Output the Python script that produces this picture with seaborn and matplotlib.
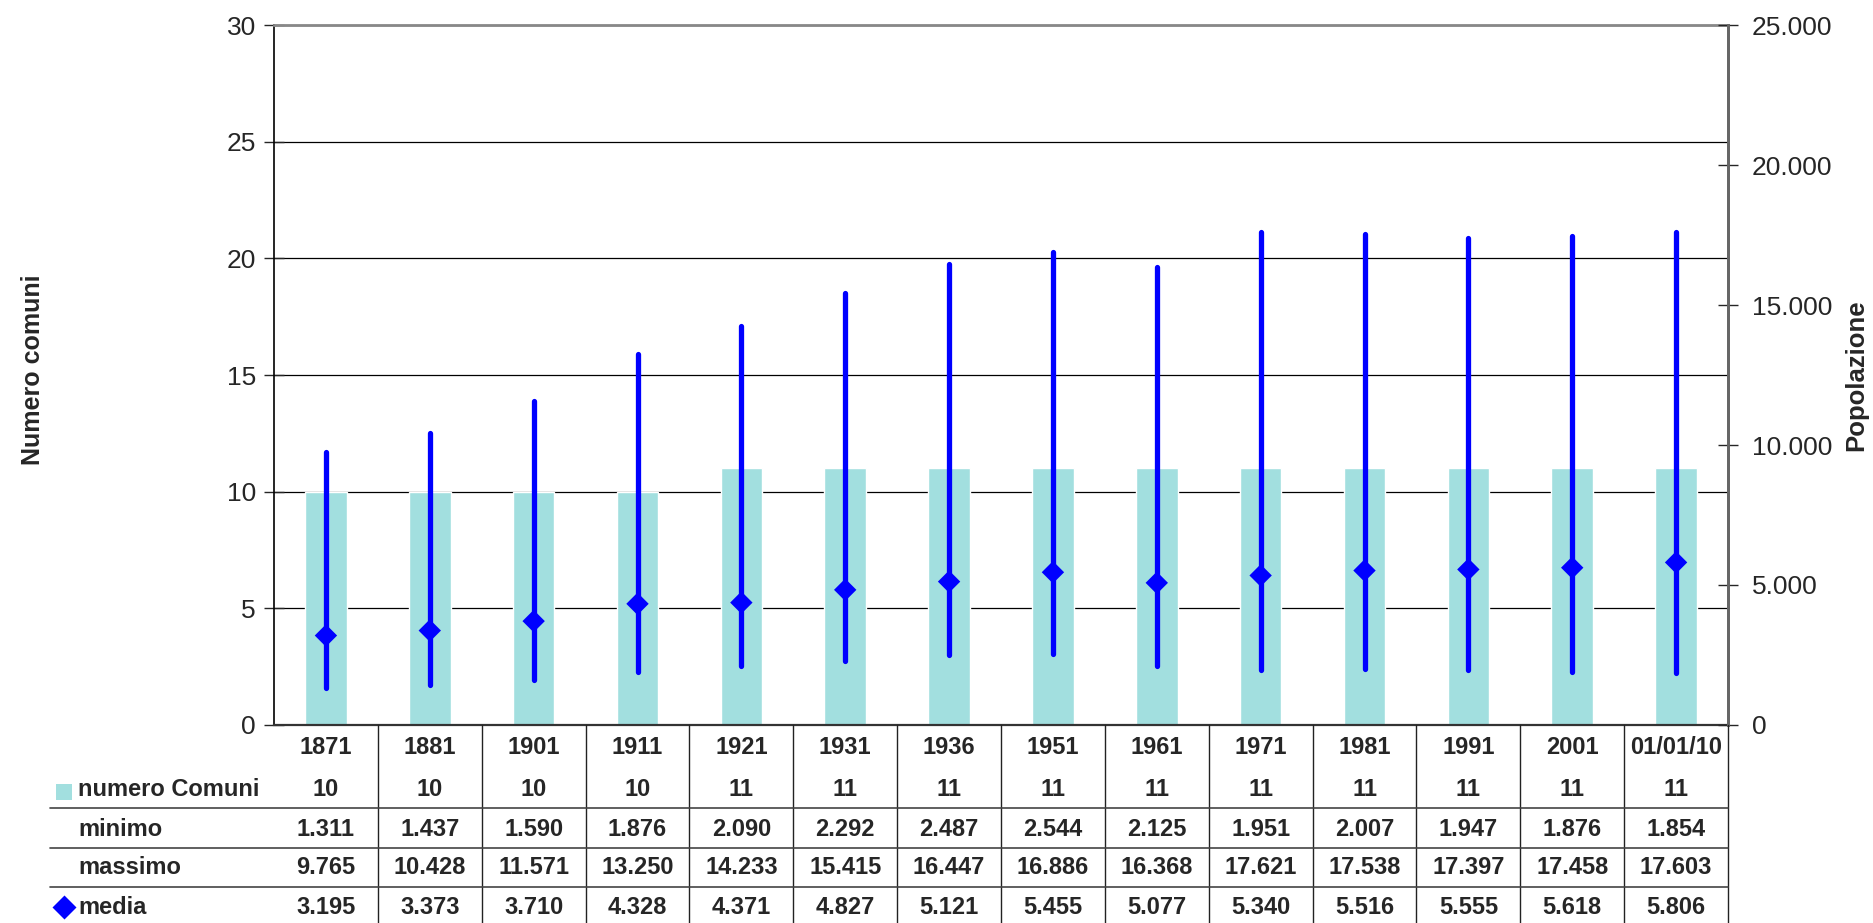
import numpy as np
import pandas as pd
import matplotlib
matplotlib.use('Agg')
import matplotlib.pyplot as plt
import matplotlib.transforms as mtransforms
from matplotlib.lines import Line2D
from matplotlib.patches import Rectangle
from matplotlib.ticker import FuncFormatter, MultipleLocator
import seaborn as sns

anni = ['1871', '1881', '1901', '1911', '1921', '1931', '1936', '1951', '1961',
        '1971', '1981', '1991', '2001', '01/01/10']
comuni = [10, 10, 10, 10, 11, 11, 11, 11, 11, 11, 11, 11, 11, 11]
minimo = [1311, 1437, 1590, 1876, 2090, 2292, 2487, 2544, 2125, 1951, 2007, 1947, 1876, 1854]
massimo = [9765, 10428, 11571, 13250, 14233, 15415, 16447, 16886, 16368, 17621, 17538, 17397, 17458, 17603]
media = [3195, 3373, 3710, 4328, 4371, 4827, 5121, 5455, 5077, 5340, 5516, 5555, 5618, 5806]

col_bar = '#A2DFDF'
col_blu = '#0000FF'

df = pd.DataFrame({'anno': anni, 'comuni': comuni})

sns.set_style('white')
plt.rcParams['font.family'] = ['Liberation Sans', 'DejaVu Sans']

fig = plt.figure(figsize=(18.74, 9.23), dpi=100)
ax = fig.add_axes([274/1874, 1 - 725/923, (1728 - 274)/1874, (725 - 25)/923])

sns.barplot(data=df, x='anno', y='comuni', color=col_bar, width=0.4,
            saturation=1, ax=ax, zorder=2)
ax.set_ylim(0, 30)
ax.set_xlim(-0.5, len(anni) - 0.5)
ax.yaxis.set_major_locator(MultipleLocator(5))
ax.grid(axis='y', color='black', lw=0.9)
ax.set_axisbelow(True)
ax.set_xlabel('')
ax.set_ylabel('')
ax.set_xticks([])
ax.tick_params(axis='y', direction='inout', length=14, width=1, labelsize=19, pad=6)
ax.spines['left'].set_color('black')
ax.spines['left'].set_linewidth(1.2)
ax.spines['bottom'].set_color('#333333')
ax.spines['bottom'].set_linewidth(1.6)
ax.spines['top'].set_color('#888888')
ax.spines['top'].set_linewidth(2)
ax.spines['right'].set_color('#666666')
ax.spines['right'].set_linewidth(2)

ax2 = ax.twinx()
pos = np.arange(len(anni))
lc = ax2.vlines(pos, minimo, massimo, color=col_blu, lw=3.8, zorder=3)
lc.set_capstyle('round')
sns.scatterplot(x=pos, y=media, marker='D', s=130, color=col_blu,
                edgecolor='none', ax=ax2, zorder=4)
ax2.set_ylim(0, 25000)
ax2.yaxis.set_major_locator(MultipleLocator(5000))
ax2.yaxis.set_major_formatter(FuncFormatter(lambda v, p: f'{v:,.0f}'.replace(',', '.')))
ax2.tick_params(axis='y', direction='inout', length=14, width=1, labelsize=19, pad=10)
ax2.set_xlim(-0.5, len(anni) - 0.5)
for s in ['top', 'left', 'bottom']:
    ax2.spines[s].set_visible(False)
ax2.spines['right'].set_color('#666666')
ax2.spines['right'].set_linewidth(2)

fig.text(33/1874, 1 - 370/923, 'Numero comuni', rotation=90, fontsize=18,
         fontweight='bold', ha='center', va='center')
fig.text(1856/1874, 1 - 375/923, 'Popolazione', rotation=90, fontsize=18.5,
         fontweight='bold', ha='center', va='center')

# tabella dati sotto il grafico
tr = mtransforms.blended_transform_factory(ax.transData, fig.transFigure)
righe_y = [1 - 789/923, 1 - 829/923, 1 - 868/923, 1 - 907/923]
header_y = 1 - 747/923
fmt = lambda v: f'{v:,.0f}'.replace(',', '.')
fs = 17
for i, a in enumerate(anni):
    fig.text(i, header_y, a, transform=tr, ha='center', va='center', fontsize=fs, fontweight='bold')
    fig.text(i, righe_y[0], str(comuni[i]), transform=tr, ha='center', va='center', fontsize=fs, fontweight='bold')
    fig.text(i, righe_y[1], fmt(minimo[i]), transform=tr, ha='center', va='center', fontsize=fs, fontweight='bold')
    fig.text(i, righe_y[2], fmt(massimo[i]), transform=tr, ha='center', va='center', fontsize=fs, fontweight='bold')
    fig.text(i, righe_y[3], fmt(media[i]), transform=tr, ha='center', va='center', fontsize=fs, fontweight='bold')

for k in range(1, len(anni) + 1):
    fig.add_artist(Line2D([k - 0.5, k - 0.5], [1 - 725/923, 0], transform=tr, color='#222222', lw=1))

x0, x1 = 50/1874, 1728/1874
for yy in [808, 848, 887]:
    fig.add_artist(Line2D([x0, x1], [1 - yy/923, 1 - yy/923], transform=fig.transFigure,
                          color='#444444', lw=1.2))

etichette = ['numero Comuni', 'minimo', 'massimo', 'media']
for lab, yy in zip(etichette, righe_y):
    fig.text(78/1874, yy, lab, ha='left', va='center', fontsize=fs, fontweight='bold')

fig.add_artist(Rectangle((56/1874, 1 - 800/923), 16/1874, 16/923, transform=fig.transFigure,
                         facecolor=col_bar, edgecolor='none'))
fig.add_artist(Line2D([64/1874], [righe_y[3]], transform=fig.transFigure, marker='D',
                      markersize=12, color=col_blu, markeredgecolor='none', linestyle='none'))

plt.savefig('out.png', dpi=100)
